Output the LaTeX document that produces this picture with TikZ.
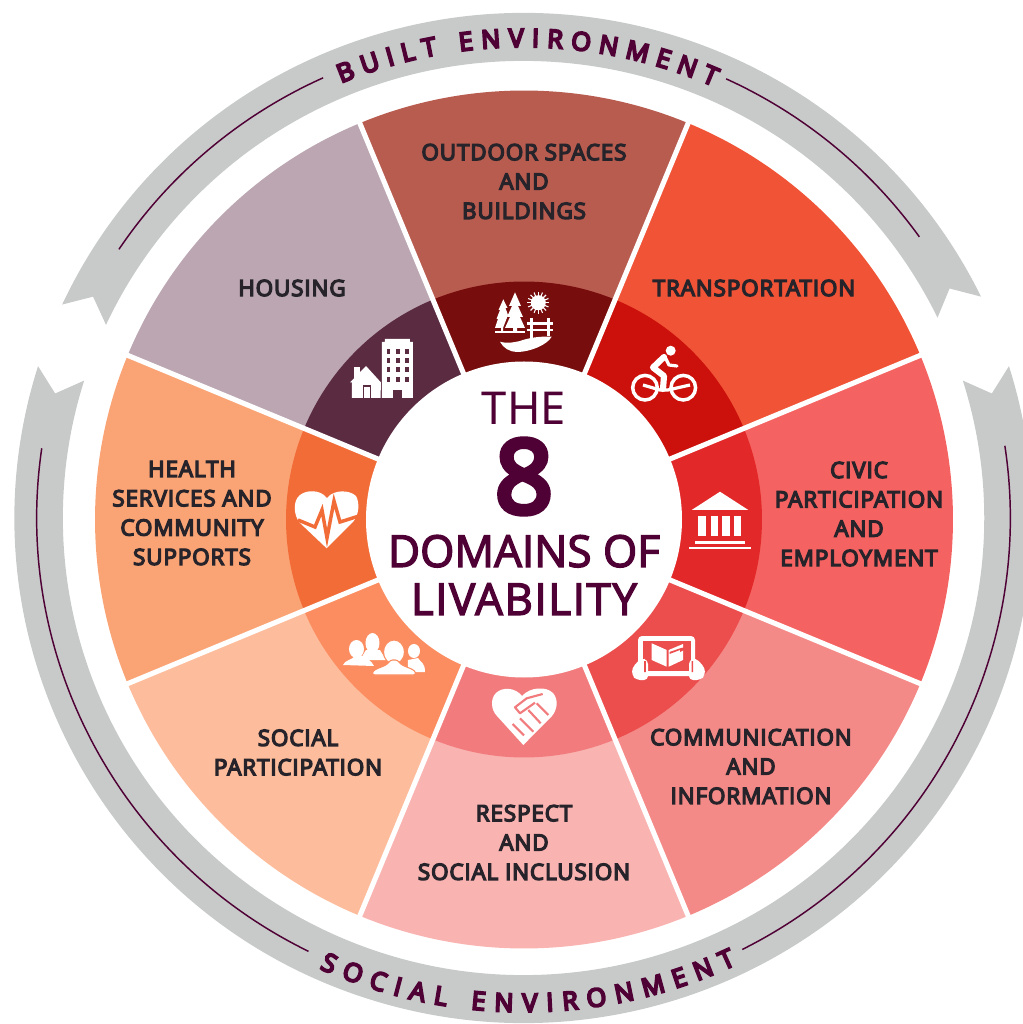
\documentclass[tikz,border=0pt]{standalone}
\usepackage{fontspec}
\usetikzlibrary{decorations.text}
\setmainfont{Noto Sans}
\newfontfamily\labelfont[LetterSpace=4,FakeBold=6]{Open Sans}
\newfontfamily\ringfont[FakeBold=8]{Open Sans}
\newfontfamily\thefont{Noto Sans}
\newfontfamily\semifont[FakeBold=3]{Open Sans}
\newfontfamily\spacedfont[FakeBold=3,LetterSpace=3.5]{Open Sans}
\newfontfamily\eightfont[FakeBold=6]{Open Sans}
\definecolor{ringgrey}{HTML}{C8CACA}
\definecolor{deeppurple}{HTML}{4F0034}
\definecolor{labelink}{HTML}{26242A}
\definecolor{houseout}{HTML}{BBA6B1}\definecolor{housein}{HTML}{5B2B42}
\definecolor{parkout}{HTML}{B85C50}\definecolor{parkin}{HTML}{770D0D}
\definecolor{busout}{HTML}{F05336}\definecolor{busin}{HTML}{CC100B}
\definecolor{civicout}{HTML}{F46361}\definecolor{civicin}{HTML}{E22828}
\definecolor{infoout}{HTML}{F48A87}\definecolor{infoin}{HTML}{EC4D4D}
\definecolor{respectout}{HTML}{F9B3B1}\definecolor{respectin}{HTML}{F27C7D}
\definecolor{socialout}{HTML}{FDBD9C}\definecolor{socialin}{HTML}{FB8D60}
\definecolor{healthout}{HTML}{FAA476}\definecolor{healthin}{HTML}{F26C38}
\tikzset{
  label node/.style={font=\labelfont\fontsize{16.8}{22}\selectfont,text=labelink,align=center,inner sep=0pt},
  big node/.style={text=deeppurple,align=center,inner sep=0pt},
  thin arc/.style={draw=deeppurple,line width=1.1pt},
  page px/.style={shift={(-524,519.5)},yscale=-1},
}
\begin{document}
\begin{tikzpicture}[x=.75pt,y=.75pt]
\useasboundingbox (-524,-504.5) rectangle (499,519.5);
% grey arrows
\begin{scope}[shift={(-.5,1.5)},xscale=1.008]
\fill[ringgrey] (155:505) arc (155:26:505) -- (28.5:481) -- (26:457) arc (26:155:457) -- (152.6:481) -- cycle;
\fill[ringgrey] (162.5:505) arc (162.5:377.5:505) -- (375:481) -- (377.5:457) arc (377.5:162.5:457) -- (165:481) -- cycle;
\draw[thin arc] (114.3:483) arc (114.3:146.2:483);
\draw[thin arc] (65.4:483) arc (65.4:35.6:483);
\draw[thin arc] (171.7:483) arc (171.7:243.8:483);
\draw[thin arc] (296.7:483) arc (296.7:368.6:483);
\path[decorate,decoration={text along path,text color=deeppurple,text align={fit to path},
  text={|\ringfont\fontsize{19}{19}\selectfont|BUILT ENVIRONMENT}}] (112.6:471) arc (112.6:66.4:471);
\path[decorate,decoration={text along path,text color=deeppurple,text align={fit to path},
  text={|\ringfont\fontsize{19}{19}\selectfont|SOCIAL ENVIRONMENT}}] (245.8:494) arc (245.8:295.3:494);
\end{scope}
% wheel
\foreach \a/\outer/\inner in {67.5/parkout/parkin,112.5/houseout/housein,157.5/healthout/healthin,202.5/socialout/socialin,247.5/respectout/respectin,292.5/infoout/infoin,337.5/civicout/civicin,22.5/busout/busin}{
  \fill[\outer] (0,0) -- (\a:429) arc (\a:\a+45:429) -- cycle;
  \fill[\inner] (0,0) -- (\a:238) arc (\a:\a+45:238) -- cycle;
}
\foreach \a in {22.5,67.5,...,337.5}{
  \draw[white,line width=3.8pt] (0,0) -- (\a:432);
}
\fill[white] (0,0) circle (158);
\begin{scope}[page px]
% labels
\node[label node] (parks) at (524,181.5) {OUTDOOR SPACES\\AND\\BUILDINGS};
\node[label node] (housing) at (292,288) {HOUSING};
\node[label node] (transport) at (754,288) {TRANSPORTATION};
\node[label node] (civic) at (859,514) {CIVIC\\PARTICIPATION\\AND\\EMPLOYMENT};
\node[label node] (health) at (192,513) {HEALTH\\SERVICES AND\\COMMUNITY\\SUPPORTS};
\node[label node] (social) at (298,752.5) {SOCIAL\\PARTICIPATION};
\node[label node] (respect) at (524,842.5) {RESPECT\\AND\\SOCIAL INCLUSION};
\node[label node] (info) at (751,766.5) {COMMUNICATION\\AND\\INFORMATION};
\node[big node,font=\thefont\fontsize{34}{34}\selectfont] (the) at (524,408) {THE};
\node[big node,font=\eightfont\fontsize{76}{76}\selectfont] (eight) at (524,476.5) {8};
\node[big node,font=\semifont\fontsize{33}{36}\selectfont] (domains) at (524,575) {DOMAINS OF\\{\spacedfont LIVABILITY}};
% house and tower
\fill[white] (382,342) -- (385,342) -- (385,339) -- (410,339) -- (410,342) -- (413,342) -- (413,398) -- (382,398) -- cycle;
\foreach \wx in {386.7,396,405}{\foreach \wy in {349,358.3,367.3,376.7}{
  \fill[housein] (\wx,\wy) rectangle +(3.6,5);
}}
\fill[housein] (393.3,390) rectangle (401.7,398);
\fill[white] (354,367.5) rectangle (360,380);
\fill[white] (350,382.5) -- (366,366) -- (381,382.5) -- (380.5,398) -- (352,398) -- (352,382.5) -- cycle;
\draw[housein,line width=1.1pt,fill=white] (363.5,398) -- (363.5,386) -- (370.5,386) -- (370.5,398);
% trees, sun, fence
\fill[white] (515,292.3) -- (521,306) -- (518,306) -- (523,317) -- (520,317) -- (525,328) -- (517,328) -- (517,332) -- (513,332) -- (513,328) -- (505,328) -- (510,317) -- (507,317) -- (512,306) -- (509,306) -- cycle;
\fill[white] (503.3,299.3) -- (507.5,308) -- (505.5,308) -- (508,315) -- (506.5,319) -- (503,328) -- (503,332) -- (501,332) -- (501,328) -- (495,328) -- (498,319) -- (496.5,319) -- (500,310) -- (498.5,310) -- cycle;
\fill[white] (495,331) rectangle (525,333.5);
\fill[white] (500,341.7) .. controls (508,344) and (515,342) .. (520,341) .. controls (528,338) and (540,336) .. (551.7,336.7) .. controls (547,345) and (530,352) .. (517,352) .. controls (510,352) and (503,348) .. (500,341.7) -- cycle;
\fill[white] (538.3,302.7) circle (7.5);
\foreach \r in {0,22.5,...,337.5}{
  \draw[white,line width=.8pt] (538.3,302.7) -- ++(\r:11);
}
\draw[white,line width=2pt] (531.7,318) -- (531.7,338) (548.3,318) -- (548.3,336) (526.7,323.3) -- (553.3,323.3) (526.7,330) -- (553.3,330);
% bicycle
\draw[white,line width=2.6pt] (645,387.7) circle (12.3) (683.3,387.7) circle (12.3);
\fill[white] (670.7,350.7) circle (5);
\draw[white,line width=4.6pt,line join=round,line cap=round] (664,357) -- (653,367.5) -- (664,376) -- (663,389);
\draw[white,line width=2.4pt,line join=round,line cap=round] (665,357) -- (669,365) -- (677,366);
\draw[white,line width=2.4pt,line join=round] (643,385) -- (660,390) -- (668,390) -- (690,385);
% bank
\fill[white] (720,491.7) -- (748.3,510) -- (691.7,510) -- cycle;
\foreach \cx in {698.3,710.5,722.3,734.2}{
  \fill[white] (\cx,515.7) rectangle +(7.2,20.3);
}
\fill[white] (695,540.7) rectangle (745,544);
\fill[white] (689.3,546.7) rectangle (750.7,549.3);
% tablet and book
\fill[white,rounded corners=3pt] (638,636) rectangle (695,676);
\fill[infoin] (642.7,640.7) rectangle (691,671);
\fill[white,rounded corners=3pt] (632,668) -- (641,658) -- (648,660) -- (648,680) -- (636,680) -- (632,675) -- cycle;
\fill[white,rounded corners=3pt] (705,668) -- (696,658) -- (689,660) -- (689,680) -- (701,680) -- (705,675) -- cycle;
\fill[infoin] (644,661) rectangle (645.8,672) (691.5,661) rectangle (693,672);
\fill[white] (651.7,643.3) -- (666.7,650) -- (666.7,666.7) -- (651.7,660) -- cycle;
\fill[white] (668.7,650) -- (683,644) -- (683,660) -- (668.7,666.7) -- cycle;
\fill[infoin] (669.5,654) -- (680,650) -- (680,652) -- (686,649) -- (686,647) -- (681,648) -- (669.5,652) -- cycle;
% handshake heart
\fill[white] (523.3,745) -- (497,716) .. controls (491,710) and (490,699) .. (496,693) .. controls (502,687) and (515,687) .. (522,696) .. controls (530,687) and (546,686) .. (553,693) .. controls (559,700) and (557,710) .. (552,716) -- cycle;
\draw[respectin,line width=1.6pt] (512.7,724) -- (524,735.3) (520,718.3) -- (533.3,731.7) (528.3,710) -- (540.7,723.3) (536.7,703.3) -- (548.3,715);
\draw[respectin,line width=1.6pt,line join=round] (542.7,694) -- (526.7,698.3) -- (515,707.3) -- (520,713.3) -- (535,702.7);
% people
\fill[white] (356.5,649) ellipse (7.5 and 9);
\fill[white] (343,665) .. controls (345,660) and (352,660) .. (355,656) -- (364,656) .. controls (368,660) and (371,660) .. (374,666) -- cycle;
\fill[white] (372.5,643) ellipse (7 and 10);
\fill[white] (366,650) -- (380,650) -- (386,660) -- (360,660) -- cycle;
\fill[white] (414,651) ellipse (6 and 7);
\fill[white] (408,660) -- (418,658) .. controls (420,662) and (425,662) .. (425,672) -- (408,672) -- cycle;
\fill[white,draw=socialin,line width=.8pt] (394,652) ellipse (10.5 and 12);
\fill[white,draw=socialin,line width=.8pt,rounded corners=2pt] (372,675) .. controls (374,668) and (386,667) .. (390,660) -- (398,660) .. controls (402,667) and (414,668) .. (416,675) -- cycle;
% heart with pulse
\fill[white] (326.7,548.3) -- (300,523) .. controls (293,515) and (293,500) .. (300,495) .. controls (306,490) and (320,489) .. (327,498) .. controls (334,489) and (350,490) .. (356,496) .. controls (360,503) and (359,515) .. (353,522) -- cycle;
\draw[healthin,line width=2.6pt,line join=miter] (298,520) -- (315,527) -- (322,510) -- (327,538) -- (334,501) -- (340,522) -- (359,516);
\end{scope}
\end{tikzpicture}
\end{document}
